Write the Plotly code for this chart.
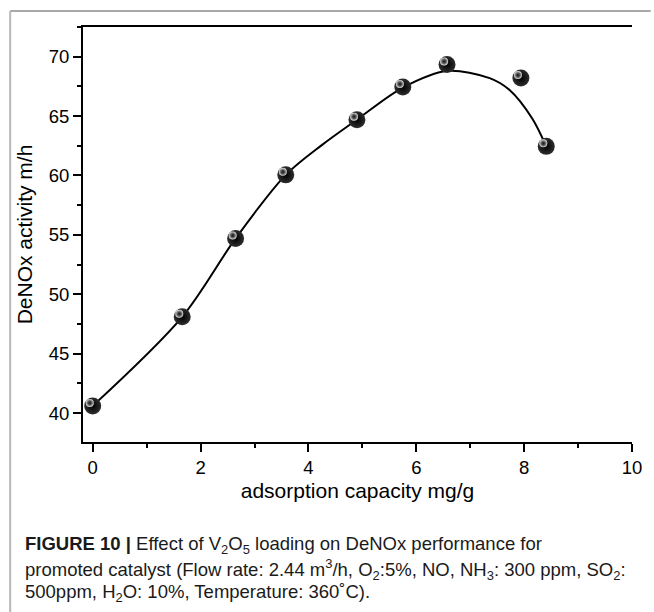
import plotly.graph_objects as go

# Measured data points
x_pts = [0, 1.66, 2.65, 3.58, 4.90, 5.75, 6.57, 7.94, 8.41]
y_pts = [40.6, 48.1, 54.7, 60.05, 64.7, 67.45, 69.35, 68.2, 62.45]

# Fitted curve
fit_x = [0, 1.66, 2.65, 3.58, 4.26, 4.90, 5.75, 6.57, 7.36, 7.73, 8.15, 8.41]
fit_y = [40.6, 48.1, 54.7, 60.05, 62.6, 64.7, 67.4, 68.8, 68.2, 67.2, 64.8, 62.45]

x_ticks = [0, 2, 4, 6, 8, 10]
y_ticks = [40, 45, 50, 55, 60, 65, 70]

x_title = "adsorption capacity mg/g"
y_title = "DeNOx activity m/h"
caption_lines = [
    "<b>FIGURE 10 |</b> Effect of V<sub>2</sub>O<sub>5</sub> loading on DeNOx performance for",
    "promoted catalyst (Flow rate: 2.44 m<sup>3</sup>/h, O<sub>2</sub>:5%, NO, NH<sub>3</sub>: 300 ppm, SO<sub>2</sub>:",
    "500ppm, H<sub>2</sub>O: 10%, Temperature: 360˚C).",
]

W, H = 654, 612
L, R, T, B = 83, 13, 27, 170
PW, PH = W - L - R, H - T - B
XR = [-0.18, 10.0]
YR = [37.56, 72.5]
FONT = "Liberation Sans, Arial, sans-serif"
TICKFONT = "Liberation Sans Narrow, Arial Narrow, Liberation Sans, Arial, sans-serif"

def px_x(p):
    return (p - L) / PW

def px_y(p):
    return (H - B - p) / PH

# shift for highlight (pixels up-left)
dx = 3.0 * (XR[1] - XR[0]) / PW
dy = 3.0 * (YR[1] - YR[0]) / PH

fig = go.Figure()
fig.add_trace(go.Scatter(x=fit_x, y=fit_y, mode="lines",
                         line=dict(color="black", width=2, shape="spline", smoothing=0.9),
                         hoverinfo="skip"))
fig.add_trace(go.Scatter(x=x_pts, y=y_pts, mode="markers",
                         marker=dict(size=17, color="#2e2e2e",
                                     gradient=dict(type="radial", color="#000000"),
                                     line=dict(width=0))))
fig.add_trace(go.Scatter(x=x_pts, y=y_pts, mode="markers", xaxis="x2", yaxis="y3",
                         marker=dict(size=8, color="#e6e6e6",
                                     gradient=dict(type="radial", color="rgba(50,50,50,0.2)"),
                                     line=dict(width=0)),
                         hoverinfo="skip"))

axis_common = dict(showgrid=False, zeroline=False, linecolor="black", linewidth=2,
                   tickcolor="black", tickwidth=2, ticklen=8,
                   tickfont=dict(family=TICKFONT, size=18.5, color="black"))

fig.update_layout(
    width=W, height=H,
    margin=dict(l=L, r=R, t=T, b=B, pad=0),
    paper_bgcolor="white", plot_bgcolor="white",
    showlegend=False,
    xaxis=dict(range=XR, tickvals=x_ticks, ticks="outside", showline=True, mirror=True,
               minor=dict(dtick=1, tick0=0, ticks="outside", ticklen=4, tickwidth=2, tickcolor="black"),
               title=dict(text=x_title, font=dict(family=FONT, size=21, color="black"), standoff=6),
               **axis_common),
    yaxis=dict(range=YR, tickvals=y_ticks, ticks="outside", showline=True, mirror=False,
               minor=dict(dtick=2.5, tick0=0, ticks="outside", ticklen=4, tickwidth=2, tickcolor="black"),
               title=dict(text=y_title, font=dict(family=FONT, size=21, color="black"), standoff=10),
               **axis_common),
    yaxis2=dict(range=YR, overlaying="y", side="right", tickvals=y_ticks, ticks="inside",
                showticklabels=False, showline=True, showgrid=False, zeroline=False,
                linecolor="black", linewidth=2, tickcolor="black", tickwidth=2, ticklen=8,
                minor=dict(dtick=2.5, tick0=0, ticks="inside", ticklen=4, tickwidth=2, tickcolor="black")),
    xaxis2=dict(range=[XR[0] + dx, XR[1] + dx], overlaying="x", visible=False),
    yaxis3=dict(range=[YR[0] - dy, YR[1] - dy], overlaying="y", visible=False),
)

# outer frame lines (gray)
fig.add_shape(type="line", xref="paper", yref="paper",
              x0=px_x(9), x1=px_x(660), y0=px_y(11), y1=px_y(11),
              line=dict(color="#a8a8a8", width=2))
fig.add_shape(type="line", xref="paper", yref="paper",
              x0=px_x(9), x1=px_x(9), y0=px_y(11), y1=px_y(620),
              line=dict(color="#b8b8b8", width=2))

centers = [545, 569, 592.5]
for line, yc in zip(caption_lines, centers):
    fig.add_annotation(text=line, xref="paper", yref="paper",
                       x=px_x(22), y=px_y(yc), xanchor="left", yanchor="middle",
                       showarrow=False, align="left",
                       font=dict(family=FONT, size=18.5, color="#1a1a1a"))

fig.write_html("out.html")
